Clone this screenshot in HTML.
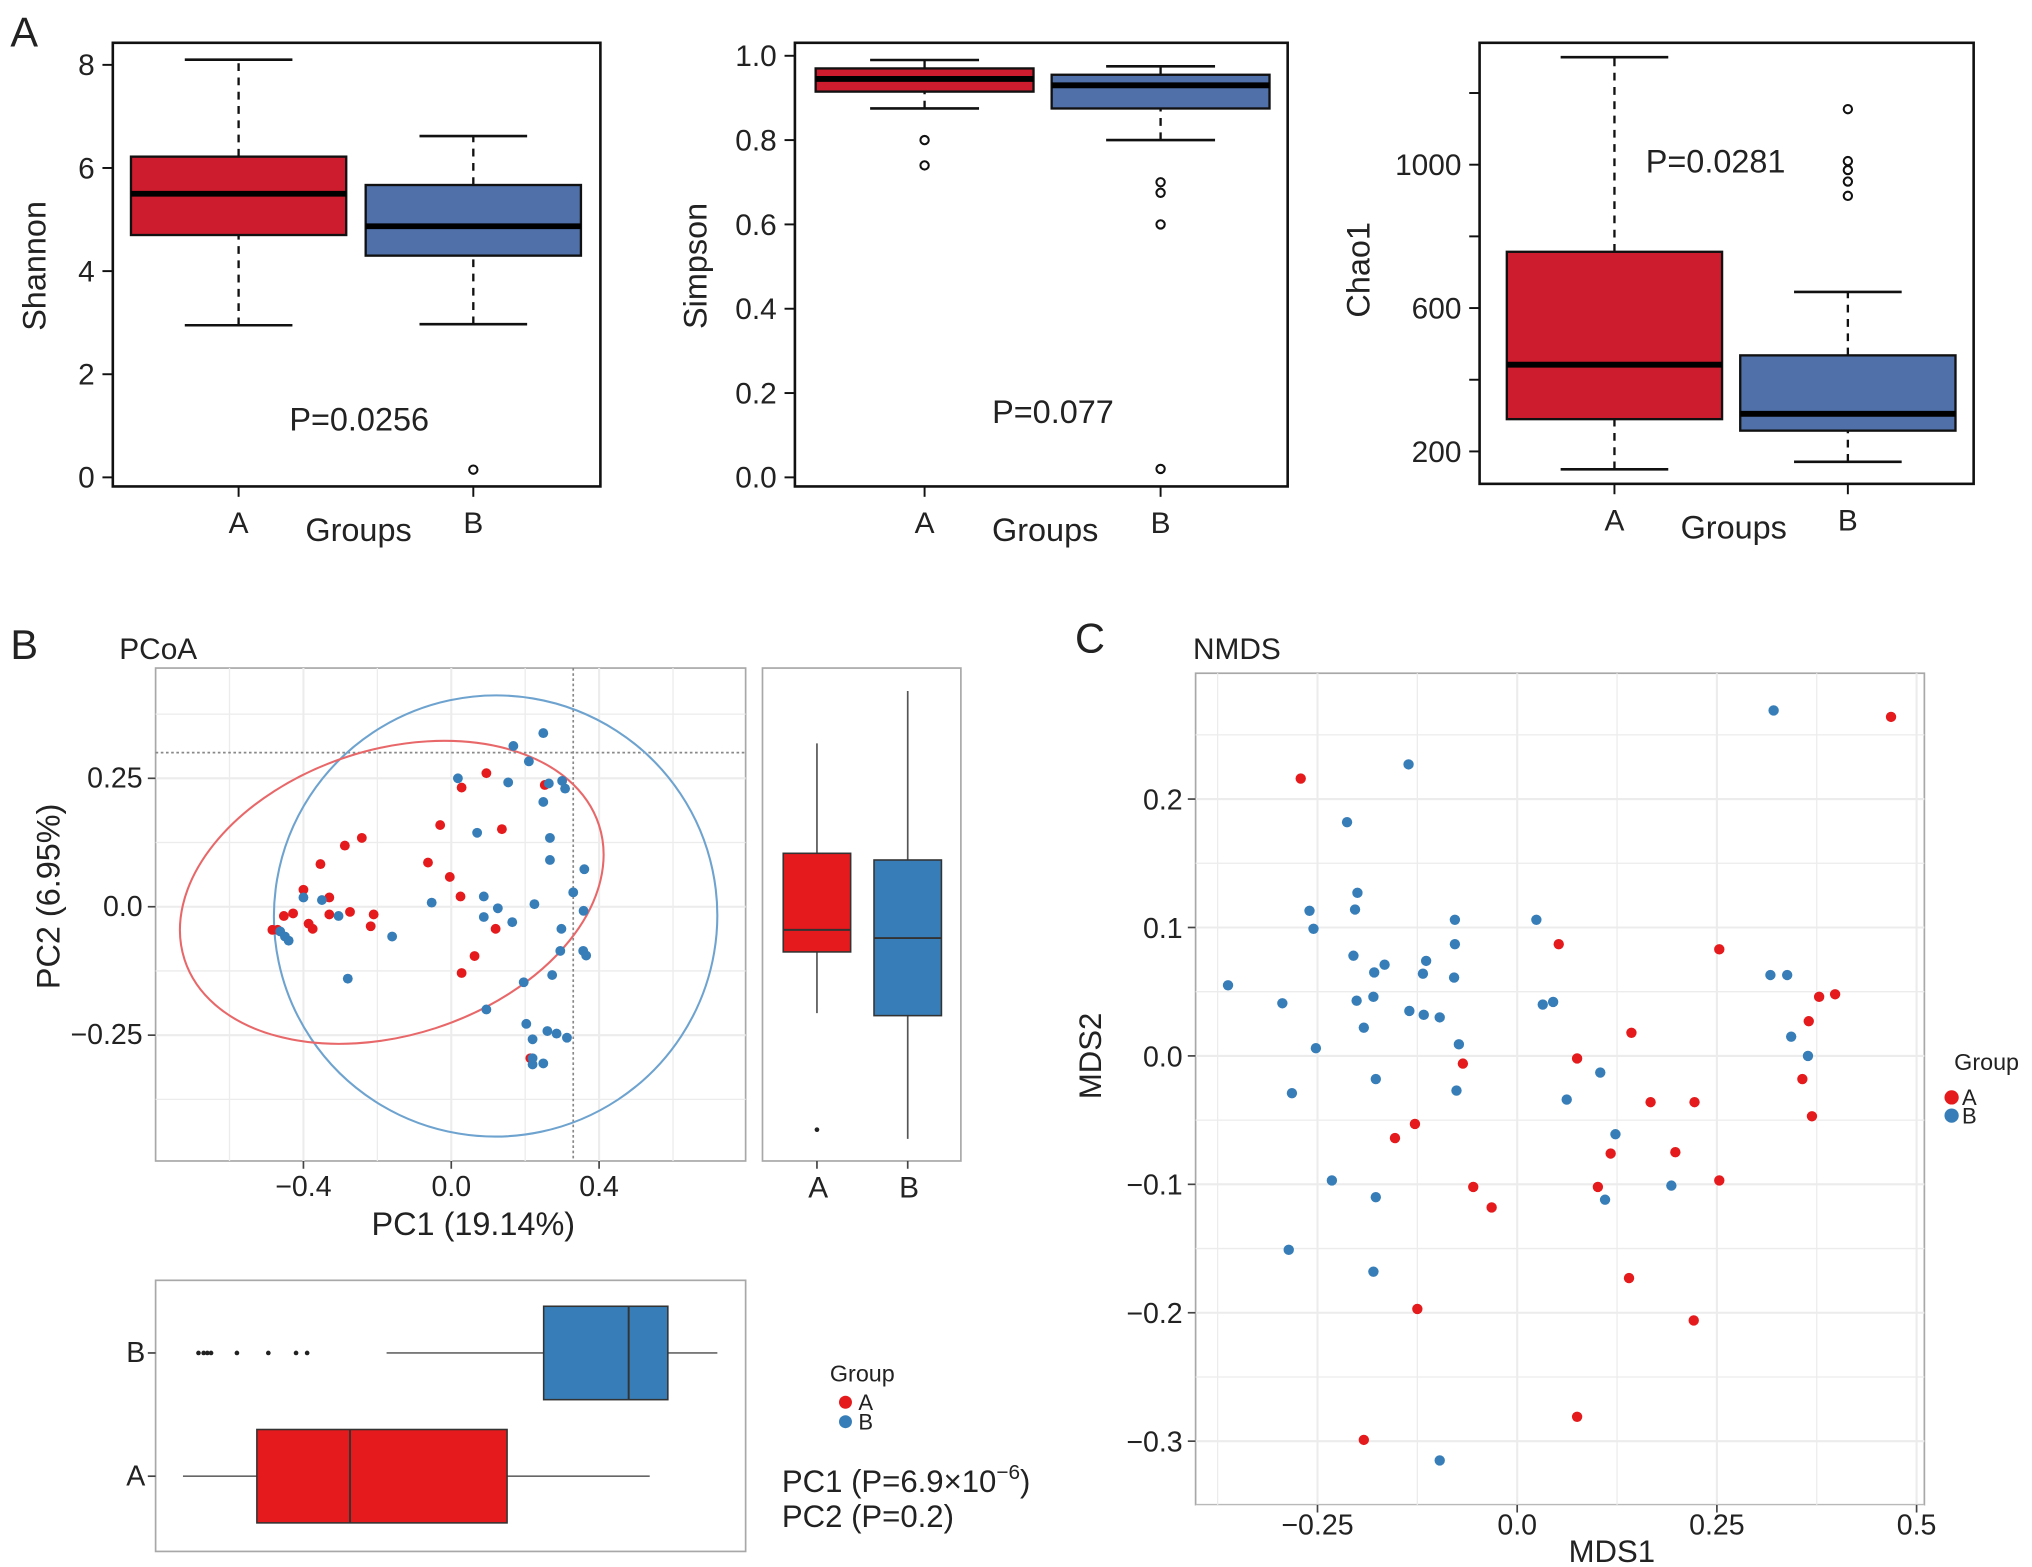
<!DOCTYPE html>
<html><head><meta charset="utf-8">
<style>
html,body{margin:0;padding:0;background:#fff;}
svg{display:block;}
text{font-family:"Liberation Sans",Arial,sans-serif;fill:#222;}
</style></head>
<body>
<svg id="fig" width="2032" height="1567" viewBox="0 0 1567 1208" preserveAspectRatio="none" xmlns="http://www.w3.org/2000/svg">
<rect x="0" y="0" width="1567" height="1208" fill="#fff"/>
<text x="8" y="36" font-size="32">A</text>
<text x="8" y="508" font-size="32">B</text>
<text x="829" y="503" font-size="32">C</text>
<text x="92" y="508" font-size="23">PCoA</text>
<text x="920" y="508" font-size="23">NMDS</text>
</svg>
<script>
// ---------- DATA ----------
const groups = ['A','B'];
const shannonStats = [[2.95,4.7,5.5,6.22,8.1],[2.97,4.3,4.87,5.67,6.62]];
const shannonOutliers = [[],[0.15]];
const shannonTicks = [0,2,4,6,8];
const simpsonStats = [[0.875,0.915,0.945,0.97,0.99],[0.80,0.875,0.93,0.955,0.975]];
const simpsonOutliers = [[0.80,0.74],[0.70,0.675,0.60,0.02]];
const simpsonTicks = [0,0.2,0.4,0.6,0.8,1.0];
const chaoStats = [[150,290,442,757,1300],[171,258,305,468,645]];
const chaoOutliers = [[],[1155,1010,985,953,913]];
const chaoTicks = [200,400,600,800,1000,1200];
const chaoTickLabels = ['200','','600','','1000',''];

const pcoaRedX = [-0.484,-0.47,-0.453,-0.428,-0.40,-0.354,-0.288,-0.242,-0.33,-0.33,-0.386,-0.375,-0.274,-0.21,-0.218,0.095,0.028,0.253,-0.03,0.137,-0.063,-0.004,0.025,0.12,0.063,0.028,0.214];
const pcoaRedY = [-0.045,-0.045,-0.018,-0.013,0.033,0.083,0.119,0.134,0.018,-0.015,-0.033,-0.043,-0.01,-0.015,-0.038,0.26,0.232,0.237,0.159,0.151,0.086,0.058,0.02,-0.043,-0.096,-0.129,-0.295];
const pcoaBlueX = [-0.463,-0.45,-0.44,-0.40,-0.35,-0.305,-0.28,-0.16,-0.053,0.018,0.07,0.088,0.126,0.088,0.165,0.168,0.249,0.21,0.154,0.264,0.30,0.308,0.249,0.267,0.267,0.36,0.33,0.358,0.225,0.298,0.295,0.357,0.365,0.273,0.196,0.095,0.203,0.22,0.26,0.285,0.313,0.22,0.22,0.249];
const pcoaBlueY = [-0.048,-0.058,-0.066,0.018,0.013,-0.018,-0.14,-0.058,0.008,0.25,0.144,0.02,-0.003,-0.02,-0.03,0.313,0.338,0.283,0.242,0.24,0.245,0.23,0.204,0.134,0.091,0.073,0.028,-0.008,0.005,-0.043,-0.086,-0.086,-0.095,-0.133,-0.147,-0.2,-0.228,-0.258,-0.242,-0.247,-0.255,-0.295,-0.307,-0.305];
const pcoaXTicks = [-0.4,0.0,0.4];
const pcoaYTicks = [-0.25,0.0,0.25];
const pc2Stats = [[-0.207,-0.088,-0.045,0.104,0.318],[-0.452,-0.212,-0.061,0.091,0.42]];
const pc2Outliers = [[-0.434],[]];
const pc1Stats = [[-0.726,-0.526,-0.274,0.151,0.537],[-0.175,0.25,0.48,0.586,0.72]];
const pc1Outliers = [[],[-0.684,-0.67,-0.66,-0.65,-0.58,-0.495,-0.42,-0.39]];

const nmdsRedX = [0.468,-0.271,0.052,0.253,0.398,0.378,0.365,-0.068,0.075,0.143,0.357,0.167,0.222,0.369,-0.128,-0.153,0.117,0.198,0.253,-0.055,0.101,-0.032,0.140,-0.125,0.221,0.075,-0.192];
const nmdsRedY = [0.264,0.216,0.087,0.083,0.048,0.046,0.027,-0.006,-0.002,0.018,-0.018,-0.036,-0.036,-0.047,-0.053,-0.064,-0.076,-0.075,-0.097,-0.102,-0.102,-0.118,-0.173,-0.197,-0.206,-0.281,-0.299];
const nmdsBlueX = [0.321,-0.136,-0.213,-0.362,-0.26,-0.255,-0.2,-0.203,-0.205,-0.179,-0.166,-0.201,-0.18,-0.192,-0.135,-0.117,-0.097,-0.114,-0.118,-0.078,-0.078,-0.079,-0.073,-0.076,-0.294,-0.252,-0.282,-0.177,0.024,0.032,0.045,0.104,0.062,0.123,0.193,0.110,-0.232,-0.177,-0.18,-0.286,-0.097,0.317,0.338,0.343,0.364];
const nmdsBlueY = [0.269,0.227,0.182,0.055,0.113,0.099,0.127,0.114,0.078,0.065,0.071,0.043,0.046,0.022,0.035,0.032,0.030,0.074,0.064,0.106,0.087,0.061,0.009,-0.027,0.041,0.006,-0.029,-0.018,0.106,0.040,0.042,-0.013,-0.034,-0.061,-0.101,-0.112,-0.097,-0.110,-0.168,-0.151,-0.315,0.063,0.063,0.015,0.000];
const nmdsXTicks = [-0.25,0,0.25,0.5];
const nmdsXLabels = ['\u22120.25','0.0','0.25','0.5'];
const nmdsYTicks = [-0.3,-0.2,-0.1,0,0.1,0.2];
const nmdsYLabels = ['\u22120.3','\u22120.2','\u22120.1','0.0','0.1','0.2'];

// ---------- HELPERS ----------
const svg = document.getElementById('fig');
const NS = 'http://www.w3.org/2000/svg';
function mk(tag, attrs, parent){
  const e = document.createElementNS(NS, tag);
  for (const k in attrs) e.setAttribute(k, attrs[k]);
  (parent||svg).appendChild(e);
  return e;
}
function txt(x,y,s,size,anchor,extra){
  const t = mk('text', Object.assign({x:x,y:y,'font-size':size,'text-anchor':anchor||'start'}, extra||{}));
  t.textContent = s;
  return t;
}
function fmt(v){ return (v<0?'\u2212':'') + Math.abs(v).toString(); }

// ---------- PANEL A ----------
function alphaPanel(cfg){
  const fr = mk('rect',{x:cfg.x0,y:cfg.y0,width:cfg.x1-cfg.x0,height:cfg.y1-cfg.y0,fill:'none',stroke:'#111','stroke-width':2});
  
  
  const ys = cfg.ys;
  cfg.ticks.forEach((v,i)=>{
    const tk = mk('line',{x1:cfg.x0-8,x2:cfg.x0,y1:ys(v),y2:ys(v),stroke:'#111','stroke-width':1.5});
    
    
    const lab = cfg.labels ? cfg.labels[i] : cfg.fmt(v);
    if (lab!==''){
      const tl = txt(cfg.x0-14, ys(v)+8, lab, 23, 'end');
      
      
    }
  });
  cfg.stats.forEach((s,g)=>{
    const cx = cfg.centers[g], hw = cfg.hw;
    const col = g===0 ? '#cc1c2e' : '#4f70a9';
    const w1 = mk('line',{x1:cx,x2:cx,y1:ys(s[0]),y2:ys(s[1]),stroke:'#111','stroke-width':1.8,'stroke-dasharray':'6,5'});
    
    
    const w2 = mk('line',{x1:cx,x2:cx,y1:ys(s[3]),y2:ys(s[4]),stroke:'#111','stroke-width':1.8,'stroke-dasharray':'6,5'});
    
    
    [s[0],s[4]].forEach(v=>{
      const c = mk('line',{x1:cx-hw/2,x2:cx+hw/2,y1:ys(v),y2:ys(v),stroke:'#111','stroke-width':2});
      
      
    });
    const b = mk('rect',{x:cx-hw,y:ys(s[3]),width:2*hw,height:ys(s[1])-ys(s[3]),fill:col,stroke:'#111','stroke-width':1.8});
    
    
    const m = mk('line',{x1:cx-hw,x2:cx+hw,y1:ys(s[2]),y2:ys(s[2]),stroke:'#000','stroke-width':4.5});
    
    
    cfg.outliers[g].forEach(v=>{
      const o = mk('circle',{cx:cx,cy:ys(v),r:3.2,fill:'none',stroke:'#111','stroke-width':1.6});
      
      
    });
    const xt = mk('line',{x1:cx,x2:cx,y1:cfg.y1,y2:cfg.y1+8,stroke:'#111','stroke-width':1.5});
    
    
    const xl = txt(cx, cfg.y1+36, groups[g], 23, 'middle');
    
    
  });
  const gl = txt((cfg.centers[0]+cfg.centers[1])/2+2, cfg.y1+42, 'Groups', 25, 'middle');
  
  
  const yl = txt(0,0,cfg.ylabel,25,'middle',{transform:'translate('+cfg.ylx+','+cfg.yly+') rotate(-90)'});
  
  
  const p = txt(cfg.px, cfg.py, cfg.ptext, 25, 'middle');
  
  
}
alphaPanel({name:'shannon',x0:87,x1:463,y0:33,y1:375,ys:v=>368-v*39.75,ticks:shannonTicks,fmt:v=>String(v),
  stats:shannonStats,outliers:shannonOutliers,centers:[184,365],hw:83,ylabel:'Shannon',ylx:35,yly:205,px:277,py:332,ptext:'P=0.0256'});
alphaPanel({name:'simpson',x0:613,x1:993,y0:33,y1:375,ys:v=>368-v*325,ticks:simpsonTicks,fmt:v=>v.toFixed(1),
  stats:simpsonStats,outliers:simpsonOutliers,centers:[713,895],hw:84,ylabel:'Simpson',ylx:545,yly:205,px:812,py:326,ptext:'P=0.077'});
alphaPanel({name:'chao1',x0:1141,x1:1522,y0:33,y1:373,ys:v=>348-(v-200)*0.2763,ticks:chaoTicks,labels:chaoTickLabels,
  stats:chaoStats,outliers:chaoOutliers,centers:[1245,1425],hw:83,ylabel:'Chao1',ylx:1056,yly:208,px:1323,py:133,ptext:'P=0.0281'});

// ---------- PANEL B: PCoA ----------
const RED = '#e41a1c', BLUE = '#377eb8';
const px = v => 348 + v*285;
const py = v => 699 - v*396;
function gridPanel(x0,y0,x1,y1,name){
  const r = mk('rect',{x:x0,y:y0,width:x1-x0,height:y1-y0,fill:'#fff',stroke:'#a8a8a8','stroke-width':1.3});
  
  
}
gridPanel(120,515,575,895,'pcoa-plot-area');
[-0.6,-0.4,-0.2,0,0.2,0.4,0.6].forEach((v,i)=>{
  const g = mk('line',{x1:px(v),x2:px(v),y1:515,y2:895,stroke:'#ececec','stroke-width':i%2?1.6:1});
  
  
});
[-0.375,-0.25,-0.125,0,0.125,0.25,0.375].forEach((v,i)=>{
  const g = mk('line',{x1:120,x2:575,y1:py(v),y2:py(v),stroke:'#ececec','stroke-width':i%2?1.6:1});
  
  
});
pcoaXTicks.forEach(v=>{
  const t = mk('line',{x1:px(v),x2:px(v),y1:895,y2:901,stroke:'#444','stroke-width':1.3});
  
  
  const l = txt(px(v), 922, v===0?'0.0':fmt(v), 22, 'middle');
  
  
});
pcoaYTicks.forEach(v=>{
  const t = mk('line',{x1:114,x2:120,y1:py(v),y2:py(v),stroke:'#444','stroke-width':1.3});
  
  
  const l = txt(110, py(v)+7, v===0?'0.0':fmt(v), 22, 'end');
  
  
});
const pcx = txt(365, 952, 'PC1 (19.14%)', 25, 'middle');


const pcy = txt(0,0,'PC2 (6.95%)',25,'middle',{transform:'translate(46,691) rotate(-90)'});


const dv = mk('line',{x1:px(0.33),x2:px(0.33),y1:515,y2:895,stroke:'#888','stroke-width':1.3,'stroke-dasharray':'2,2'});


const dh = mk('line',{x1:120,x2:575,y1:py(0.30),y2:py(0.30),stroke:'#888','stroke-width':1.3,'stroke-dasharray':'2,2'});


const eb = mk('ellipse',{cx:px(0.12),cy:py(-0.018),rx:171,ry:170,transform:'rotate(-12 '+px(0.12)+' '+py(-0.018)+')',fill:'none',stroke:'#6ea3cf','stroke-width':1.6});


const er = mk('ellipse',{cx:px(-0.161),cy:py(0.028),rx:168,ry:110,transform:'rotate(-18 '+px(-0.161)+' '+py(0.028)+')',fill:'none',stroke:'#e8686a','stroke-width':1.6});


pcoaRedX.forEach((v,i)=>{
  const c = mk('circle',{cx:px(v),cy:py(pcoaRedY[i]),r:3.8,fill:RED});
  
  
});
pcoaBlueX.forEach((v,i)=>{
  const c = mk('circle',{cx:px(v),cy:py(pcoaBlueY[i]),r:3.8,fill:BLUE});
  
  
});

// side boxplot (PC2)
gridPanel(588,515,741,895,'pc2-boxplot-area');
const sideX = [630,700];
pc2Stats.forEach((s,g)=>{
  const cx = sideX[g], col = g===0?RED:BLUE;
  const w = mk('line',{x1:cx,x2:cx,y1:py(s[0]),y2:py(s[4]),stroke:'#555','stroke-width':1.3});
  
  
  const b = mk('rect',{x:cx-26,y:py(s[3]),width:52,height:py(s[1])-py(s[3]),fill:col,stroke:'#333','stroke-width':1.2});
  
  
  const m = mk('line',{x1:cx-26,x2:cx+26,y1:py(s[2]),y2:py(s[2]),stroke:'#333','stroke-width':1.5});
  
  
  pc2Outliers[g].forEach(v=>{
    const o = mk('circle',{cx:cx,cy:py(v),r:1.8,fill:'#222'});
    
    
  });
  const t = mk('line',{x1:cx,x2:cx,y1:895,y2:901,stroke:'#444','stroke-width':1.3});
  
  
  const l = txt(cx+1, 923, groups[g], 23, 'middle');
  
  
});

// bottom boxplot (PC1)
gridPanel(120,987,575,1196,'pc1-boxplot-area');
const botY = [1138,1043];
pc1Stats.forEach((s,g)=>{
  const cy = botY[g], col = g===0?RED:BLUE;
  const w = mk('line',{x1:px(s[0]),x2:px(s[4]),y1:cy,y2:cy,stroke:'#666','stroke-width':1.3});
  
  
  const b = mk('rect',{x:px(s[1]),y:cy-36,width:px(s[3])-px(s[1]),height:72,fill:col,stroke:'#333','stroke-width':1.2});
  
  
  const m = mk('line',{x1:px(s[2]),x2:px(s[2]),y1:cy-36,y2:cy+36,stroke:'#333','stroke-width':1.5});
  
  
  pc1Outliers[g].forEach(v=>{
    const o = mk('circle',{cx:px(v),cy:cy,r:1.8,fill:'#222'});
    
    
  });
  const t = mk('line',{x1:114,x2:120,y1:cy,y2:cy,stroke:'#444','stroke-width':1.3});
  
  
  const l = txt(112, cy+7, groups[g], 22, 'end');
  
  
});

// legend B
const lgT = txt(640,1065,'Group',18,'start');


groups.forEach((gname,g)=>{
  const d = mk('circle',{cx:652,cy:1081+g*15,r:5,fill:g===0?RED:BLUE});
  
  
  const l = txt(662,1087+g*15,gname,17,'start');
  
  
});
const p1 = mk('text',{x:603,y:1150,'font-size':24});


p1.innerHTML = 'PC1 (P=6.9×10<tspan dy="-10" font-size="16">−6</tspan><tspan dy="10">)</tspan>';
const p2 = txt(603,1177,'PC2 (P=0.2)',24,'start');



// ---------- PANEL C: NMDS ----------
const nx = v => 1170 + v*616;
const ny = v => 814 - v*990;
gridPanel(922,519,1484,1160,'nmds-plot-area');
[-0.375,-0.25,-0.125,0,0.125,0.25,0.375,0.5].forEach((v,i)=>{
  const g = mk('line',{x1:nx(v),x2:nx(v),y1:519,y2:1160,stroke:'#ececec','stroke-width':i%2?1.6:1});
  
  
});
[-0.35,-0.3,-0.25,-0.2,-0.15,-0.1,-0.05,0,0.05,0.1,0.15,0.2,0.25].forEach((v,i)=>{
  const g = mk('line',{x1:922,x2:1484,y1:ny(v),y2:ny(v),stroke:'#ececec','stroke-width':i%2?1.6:1});
  
  
});
nmdsXTicks.forEach((v,i)=>{
  const t = mk('line',{x1:nx(v),x2:nx(v),y1:1160,y2:1166,stroke:'#444','stroke-width':1.3});
  
  
  const l = txt(nx(v), 1183, nmdsXLabels[i], 22, 'middle');
  
  
});
nmdsYTicks.forEach((v,i)=>{
  const t = mk('line',{x1:916,x2:922,y1:ny(v),y2:ny(v),stroke:'#444','stroke-width':1.3});
  
  
  const l = txt(912, ny(v)+8, nmdsYLabels[i], 22, 'end');
  
  
});
const mx = txt(1243,1204,'MDS1',24,'middle');


const my = txt(0,0,'MDS2',24,'middle',{transform:'translate(849,814) rotate(-90)'});


nmdsRedX.forEach((v,i)=>{
  const c = mk('circle',{cx:nx(v),cy:ny(nmdsRedY[i]),r:4,fill:RED});
  
  
});
nmdsBlueX.forEach((v,i)=>{
  const c = mk('circle',{cx:nx(v),cy:ny(nmdsBlueY[i]),r:4,fill:BLUE});
  
  
});
const ngT = txt(1507,825,'Group',18,'start');


groups.forEach((gname,g)=>{
  const d = mk('circle',{cx:1505,cy:846+g*14,r:5.5,fill:g===0?RED:BLUE});
  
  
  const l = txt(1513,852+g*14,gname,17,'start');
  
  
});
</script>
</body></html>
